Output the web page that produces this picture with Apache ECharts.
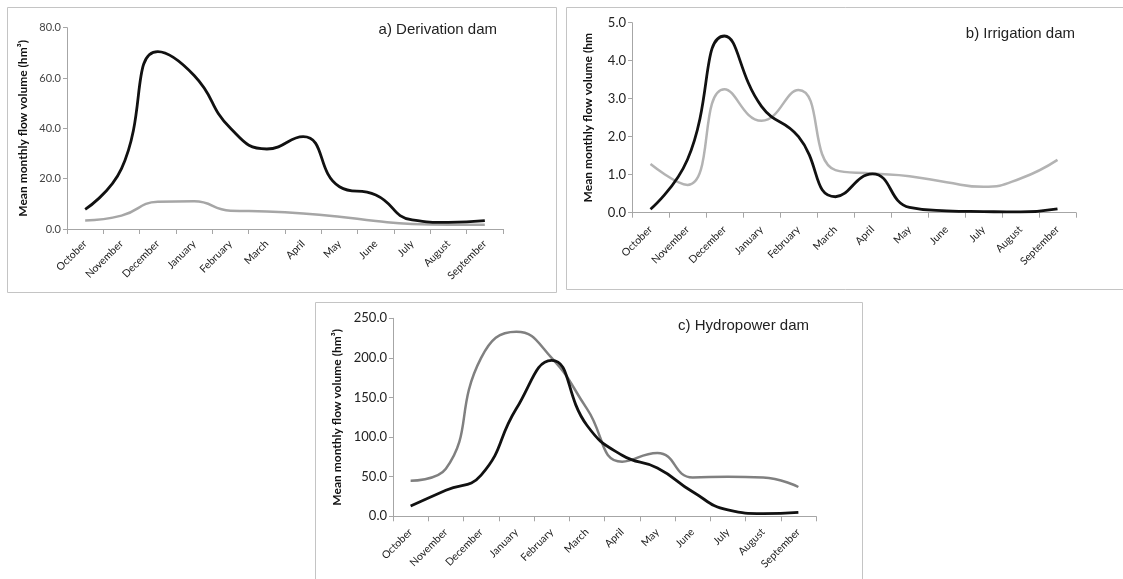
<!DOCTYPE html>
<html>
<head>
<meta charset="utf-8">
<script src="https://cdn.jsdelivr.net/npm/echarts@6/dist/echarts.min.js"></script>
<style>html,body{margin:0;padding:0;background:#fff;}#c{width:1123px;height:579px;}</style>
</head>
<body>
<div id="c"></div>
<script>
const months = ['October','November','December','January','February','March','April','May','June','July','August','September'];

// a) Derivation dam
const derivBlack = [7.8, 24, 70.5, 61, 40, 31.8, 36.7, 16.8, 13.5, 3.6, 2.6, 3.3];
const derivGray  = [3.4, 5.3, 10.8, 11, 7.3, 7.0, 6.2, 4.9, 3.2, 2.0, 1.7, 1.7];
// b) Irrigation dam
const irrBlack = [0.09, 1.4, 4.65, 2.8, 2.0, 0.42, 1.02, 0.14, 0.05, 0.03, 0.02, 0.1];
const irrGray  = [1.28, 0.73, 3.25, 2.42, 3.23, 1.12, 1.03, 0.96, 0.8, 0.68, 0.9, 1.39];
// c) Hydropower dam
const hydBlack = [13, 33, 52, 136, 197, 115, 77, 61, 31, 8, 3.4, 5];
const hydGray  = [45, 60, 200, 233, 200, 136, 69, 80, 49, 50, 49, 37];

const titles = ['a) Derivation dam', 'b) Irrigation dam', 'c) Hydropower dam'];
const yNames = ['Mean monthly flow volume (hm³)', 'Mean monthly flow volume (hm', 'Mean monthly flow volume (hm³)'];
const yMax = [80, 5, 250];
const yStep = [20, 1, 50];

const chart = echarts.init(document.getElementById('c'), null, {renderer:'canvas'});

const grids = [
  {left: 67, top: 27.7, width: 436, height: 201.3},
  {left: 632, top: 22.7, width: 444, height: 190},
  {left: 393, top: 318.3, width: 423, height: 198}
];
const tickFont = [11, 13, 13];
const nameGaps = [38, 38, 50];
const labelMargins = [13, 15, 14];

const xAxes = [], yAxes = [];
for (let i = 0; i < 3; i++) {
  xAxes.push({
    type: 'category', gridIndex: i, data: months, boundaryGap: true,
    axisLine: {lineStyle: {color: '#a6a6a6', width: 1}},
    axisTick: {show: true, length: 5, lineStyle: {color: '#a6a6a6'}},
    axisLabel: {rotate: 45, fontSize: 10.5, color: '#222', fontFamily: 'Lato', margin: labelMargins[i], interval: 0}
  });
  yAxes.push({
    type: 'value', gridIndex: i, min: 0, max: yMax[i], interval: yStep[i],
    name: yNames[i], nameLocation: 'middle', nameGap: nameGaps[i], nameRotate: 90,
    nameTextStyle: {fontSize: 12, fontWeight: 'bold', color: '#111', fontFamily: 'Lato'},
    axisLine: {show: true, lineStyle: {color: '#a6a6a6', width: 1}},
    axisTick: {show: true, length: 4, lineStyle: {color: '#a6a6a6'}},
    splitLine: {show: false},
    axisLabel: {fontSize: tickFont[i], color: i === 0 ? '#444' : '#222', fontFamily: 'Lato', margin: 6,
      formatter: v => v.toFixed(1)}
  });
}

function line(data, idx, color, width) {
  return {type: 'line', xAxisIndex: idx, yAxisIndex: idx, data: data, smooth: 0.5,
    showSymbol: false, symbol: 'none', lineStyle: {color: color, width: width}, silent: true};
}

const option = {
  animation: false,
  backgroundColor: '#fff',
  grid: grids,
  xAxis: xAxes,
  yAxis: yAxes,
  title: [
    {text: titles[0], right: 1123 - 497, top: 22, textStyle: {fontSize: 15, fontWeight: 'normal', color: '#222', fontFamily: 'Liberation Sans'}, padding: 0},
    {text: titles[1], right: 1123 - 1075, top: 26, textStyle: {fontSize: 15, fontWeight: 'normal', color: '#222', fontFamily: 'Liberation Sans'}, padding: 0},
    {text: titles[2], right: 1123 - 809, top: 318, textStyle: {fontSize: 15, fontWeight: 'normal', color: '#222', fontFamily: 'Liberation Sans'}, padding: 0}
  ],
  graphic: [
    {type: 'rect', shape: {x: 7.5, y: 7.5, width: 549, height: 285}, style: {fill: 'none', stroke: '#c4c4c4', lineWidth: 1}, z: -1},
    {type: 'rect', shape: {x: 566.5, y: 7.5, width: 570, height: 282}, style: {fill: 'none', stroke: '#c4c4c4', lineWidth: 1}, z: -1},
    {type: 'rect', shape: {x: 315.5, y: 302.5, width: 547, height: 290}, style: {fill: 'none', stroke: '#c4c4c4', lineWidth: 1}, z: -1}
  ],
  series: [
    line(derivGray, 0, '#a6a6a6', 2.5),
    line(derivBlack, 0, '#111', 2.8),
    line(irrGray, 1, '#b3b3b3', 2.5),
    line(irrBlack, 1, '#111', 2.8),
    line(hydGray, 2, '#808080', 2.5),
    line(hydBlack, 2, '#111', 2.8)
  ]
};
chart.setOption(option);
</script>
</body>
</html>
